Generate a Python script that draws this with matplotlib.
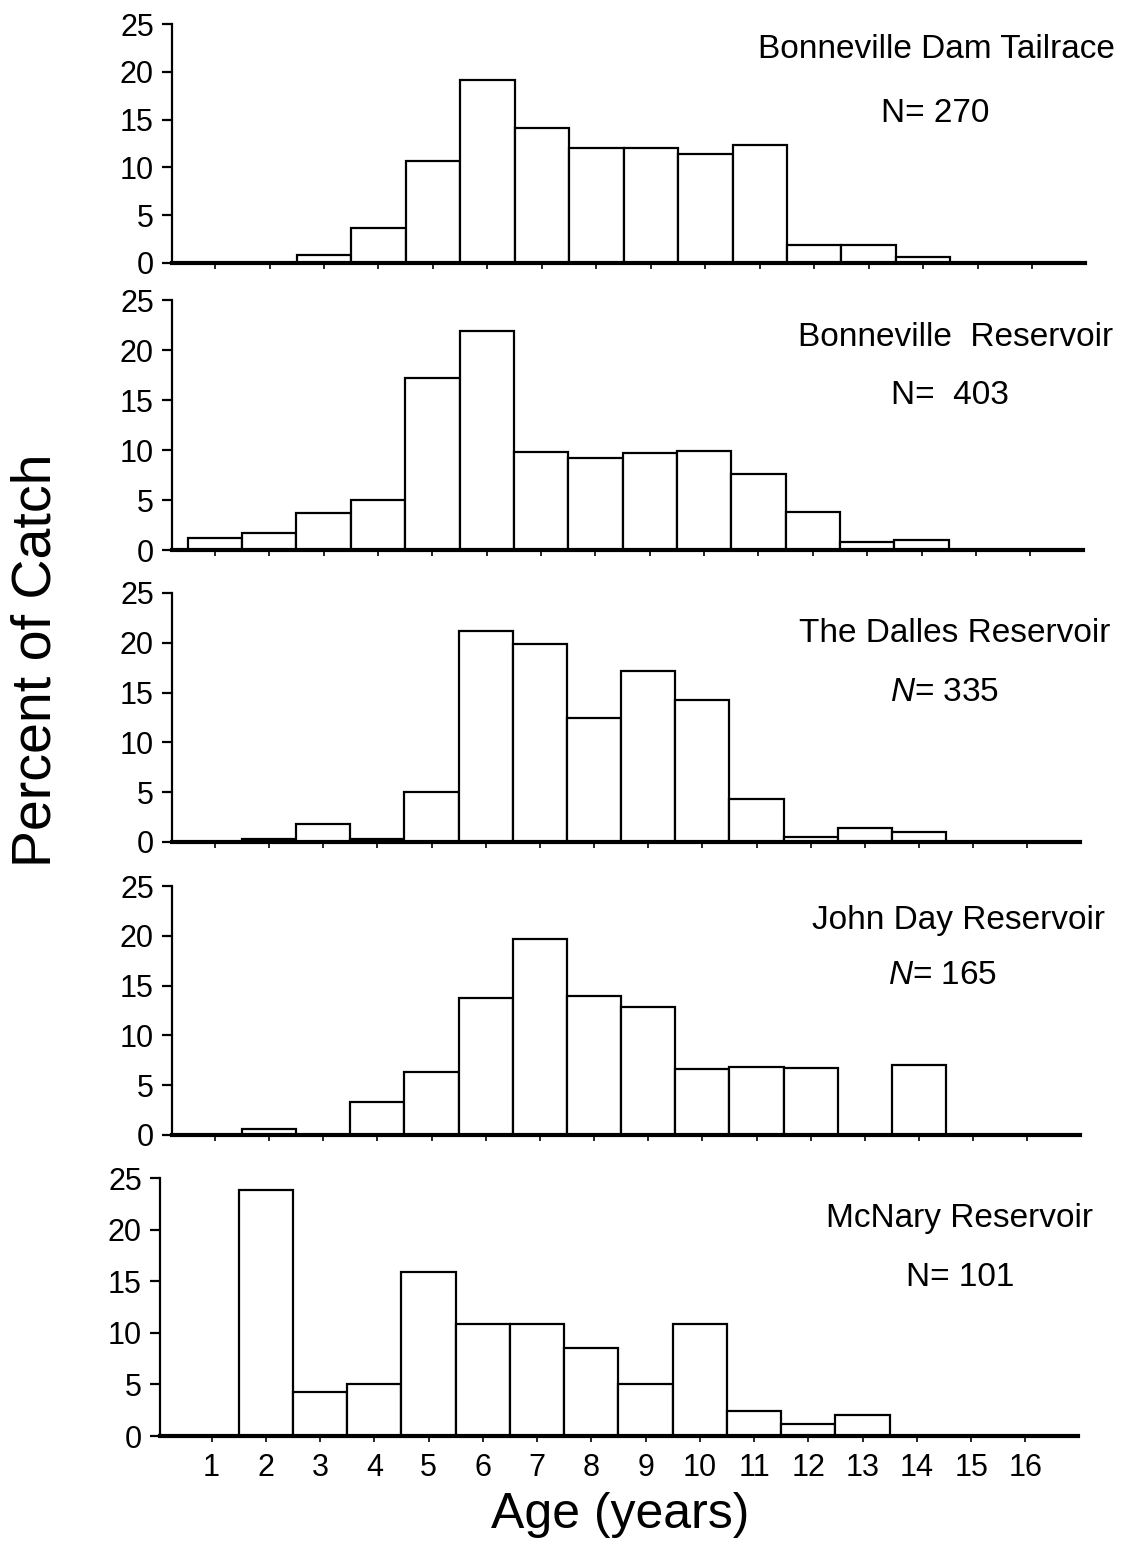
import matplotlib

matplotlib.use("Agg")
import matplotlib.pyplot as plt

plt.rcParams["font.family"] = ["Liberation Sans", "DejaVu Sans"]
plt.rcParams["mathtext.fontset"] = "custom"
plt.rcParams["mathtext.it"] = "Liberation Sans:italic"
plt.rcParams["mathtext.rm"] = "Liberation Sans"

W, H = 1146, 1547

ages = list(range(1, 17))
tick_labels = [str(a) for a in ages]

tailrace = [0, 0, 0.8, 3.7, 10.7, 19.1, 14.1, 12.0, 12.0, 11.4, 12.3, 1.9, 1.9, 0.6, 0, 0]
bonneville_res = [1.2, 1.7, 3.7, 5.0, 17.2, 21.9, 9.8, 9.2, 9.7, 9.9, 7.6, 3.8, 0.8, 1.0, 0, 0]
dalles_res = [0, 0.3, 1.8, 0.3, 5.0, 21.2, 19.9, 12.5, 17.2, 14.3, 4.3, 0.5, 1.4, 1.0, 0, 0]
john_day_res = [0, 0.6, 0, 3.3, 6.3, 13.8, 19.7, 14.0, 12.9, 6.6, 6.8, 6.7, 0, 7.0, 0, 0]
mcnary_res = [0, 23.8, 4.3, 5.0, 15.9, 10.9, 10.9, 8.5, 5.0, 10.9, 2.4, 1.2, 2.0, 0, 0, 0]

names = [
    "Bonneville Dam Tailrace",
    "Bonneville  Reservoir",
    "The Dalles Reservoir",
    "John Day Reservoir",
    "McNary Reservoir",
]
n_labels = ["N= 270", "N=  403", "$N$= 335", "$N$= 165", "N= 101"]
series = [tailrace, bonneville_res, dalles_res, john_day_res, mcnary_res]

# pixel layout of each panel: (left, right, y of 25, y of 0, x-axis start)
panels = [
    (172, 1085, 24, 263, 0.21),
    (172, 1083, 300, 550, 0.21),
    (172, 1080, 593, 842, 0.21),
    (172, 1080, 886, 1135, 0.21),
    (160, 1078, 1178, 1436, 0.05),
]
# text anchors: (name right edge, name y, N centre x, N y)
text_pos = [
    (1115, 50, 935, 113),
    (1113, 337, 950, 395),
    (1110, 633, 945, 693),
    (1105, 920, 943, 976),
    (1093, 1218, 960, 1277),
]

fig = plt.figure(figsize=(W / 100, H / 100), dpi=100)

for i, (vals, (left, right, ytop, ybot, xmin)) in enumerate(zip(series, panels)):
    ax = fig.add_axes([left / W, 1 - ybot / H, (right - left) / W, (ybot - ytop) / H])
    ax.bar(ages, vals, width=1.0, color="white", edgecolor="black", linewidth=1.6)
    ax.set_xlim(xmin, 16.97)
    ax.set_ylim(0, 25)
    ax.set_yticks([0, 5, 10, 15, 20, 25])
    ax.set_xticks(ages)
    for side in ("top", "right"):
        ax.spines[side].set_visible(False)
    ax.spines["left"].set_linewidth(1.6)
    ax.spines["bottom"].set_linewidth(3)
    ax.spines["bottom"].set_zorder(5)
    ax.tick_params(axis="y", direction="out", length=7, width=1.6, pad=6, labelsize=22)
    ax.tick_params(axis="x", direction="out", length=4, width=1.2, pad=8, labelsize=22)
    if i < 4:
        ax.set_xticklabels([])
    else:
        ax.set_xticklabels(tick_labels)

    nx, ny, cx, cy = text_pos[i]
    fig.text(nx / W, 1 - ny / H, names[i], ha="right", va="center", fontsize=24)
    fig.text(cx / W, 1 - cy / H, n_labels[i], ha="center", va="center", fontsize=24)

fig.text(620 / W, 1 - 1515 / H, "Age (years)", ha="center", va="center", fontsize=36)
fig.text(37 / W, 1 - 660 / H, "Percent of Catch", ha="center", va="center",
         rotation=90, fontsize=40)

fig.savefig("out.png", dpi=100)
